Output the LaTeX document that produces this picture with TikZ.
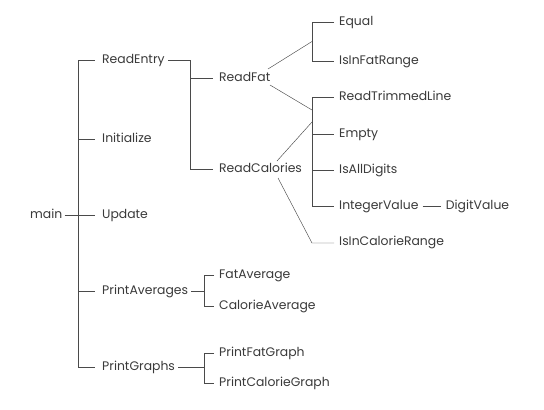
\documentclass[tikz,border=0pt]{standalone}
\usepackage{fontspec}
\setmainfont{Poppins}
\usetikzlibrary{calc}
\definecolor{ink}{HTML}{3A3A3A}
\definecolor{wire}{HTML}{4A4A4A}
\begin{document}
\begin{tikzpicture}[x=1pt,y=-1pt,
  lbl/.style={anchor=west, inner sep=0pt, text height=8.5pt, text depth=2.2pt, text=ink, font=\fontsize{12.4}{14}\selectfont},
  ln/.style={draw=wire, line width=0.45pt}]
\useasboundingbox[fill=white] (0,0) rectangle (544,410);
% nodes
\node[lbl] (main) at (30,215) {main};
\node[lbl] (ReadEntry) at (102,60) {ReadEntry};
\node[lbl] (Initialize) at (102,139) {Initialize};
\node[lbl] (Update) at (102,215) {Update};
\node[lbl] (PrintAverages) at (102,291) {PrintAverages};
\node[lbl] (PrintGraphs) at (102,367) {PrintGraphs};
\node[lbl] (ReadFat) at (219,78) {ReadFat};
\node[lbl] (ReadCalories) at (219,169) {ReadCalories};
\node[lbl] (Equal) at (339,22) {Equal};
\node[lbl] (IsInFatRange) at (339,61) {IsInFatRange};
\node[lbl] (ReadTrimmedLine) at (339,97) {ReadTrimmedLine};
\node[lbl] (Empty) at (339,134) {Empty};
\node[lbl] (IsAllDigits) at (339,170) {IsAllDigits};
\node[lbl] (IntegerValue) at (339,206) {IntegerValue};
\node[lbl, anchor=west] (DigitValue) at ($(IntegerValue.east)+(27,0)$) {DigitValue};
\node[lbl] (IsInCalorieRange) at (339,242) {IsInCalorieRange};
\node[lbl] (FatAverage) at (219,275) {FatAverage};
\node[lbl] (CalorieAverage) at (219,306) {CalorieAverage};
\node[lbl] (PrintFatGraph) at (219,353) {PrintFatGraph};
\node[lbl] (PrintCalorieGraph) at (219,383) {PrintCalorieGraph};
% main level
\draw[ln] ([xshift=2pt]main.east) -- ([xshift=-7pt]Update.west);
\draw[ln] ([xshift=-24pt]ReadEntry.west) -- ([xshift=-24pt]PrintGraphs.west);
\foreach \n in {ReadEntry,Initialize,PrintAverages,PrintGraphs}
  \draw[ln] ([xshift=-24pt]\n.west) -- ([xshift=-7pt]\n.west);
% ReadEntry
\draw[ln] ([xshift=3pt]ReadEntry.east) -| ([xshift=-29pt]ReadCalories.west) -- ([xshift=-6pt]ReadCalories.west);
\draw[ln] ([xshift=-29pt]ReadFat.west) -- ([xshift=-6pt]ReadFat.west);
% fat group
\draw[ln] ([xshift=-5pt]Equal.west) -- ([xshift=-27pt]Equal.west) -- ([xshift=-27pt]IsInFatRange.west) -- ([xshift=-5pt]IsInFatRange.west);
\coordinate (fatj) at ($(Equal.west)!0.5!(IsInFatRange.west)+(-27,0)$);
\draw[ln] ($(ReadFat.west)+(49,-9)$) -- (fatj);
% calorie group
\draw[ln] ([xshift=-27pt]ReadTrimmedLine.west) -- ([xshift=-27pt]IntegerValue.west);
\foreach \n in {ReadTrimmedLine,Empty,IsAllDigits,IntegerValue}
  \draw[ln] ([xshift=-27pt]\n.west) -- ([xshift=-5pt]\n.west);
\coordinate (calj1) at ($(ReadTrimmedLine.west)+(-27,13)$);
\coordinate (calj2) at ($(ReadTrimmedLine.west)+(-27,25)$);
\draw[ln] ($(ReadFat.west)+(51,7)$) -- (calj1);
\draw[ln] ($(ReadCalories.west)+(58,-8)$) -- (calj2);
\draw[ln] ($(ReadCalories.west)+(59,9)$) -- ($(IsInCalorieRange.west)+(-27,1)$) -- ($(IsInCalorieRange.west)+(-5,1)$);
\draw[ln] ([xshift=4pt]IntegerValue.east) -- ([xshift=-5pt]DigitValue.west);
% PrintAverages
\draw[ln] ([xshift=3pt]PrintAverages.east) -- ([xshift=-15pt]PrintAverages.east -| FatAverage.west);
\draw[ln] ([xshift=-5pt]FatAverage.west) -- ([xshift=-15pt]FatAverage.west) -- ([xshift=-15pt]CalorieAverage.west) -- ([xshift=-5pt]CalorieAverage.west);
% PrintGraphs
\draw[ln] ([xshift=3pt]PrintGraphs.east) -- ([xshift=-15pt]PrintGraphs.east -| PrintFatGraph.west);
\draw[ln] ([xshift=-5pt]PrintFatGraph.west) -- ([xshift=-15pt]PrintFatGraph.west) -- ([xshift=-15pt]PrintCalorieGraph.west) -- ([xshift=-5pt]PrintCalorieGraph.west);
\end{tikzpicture}
\end{document}
